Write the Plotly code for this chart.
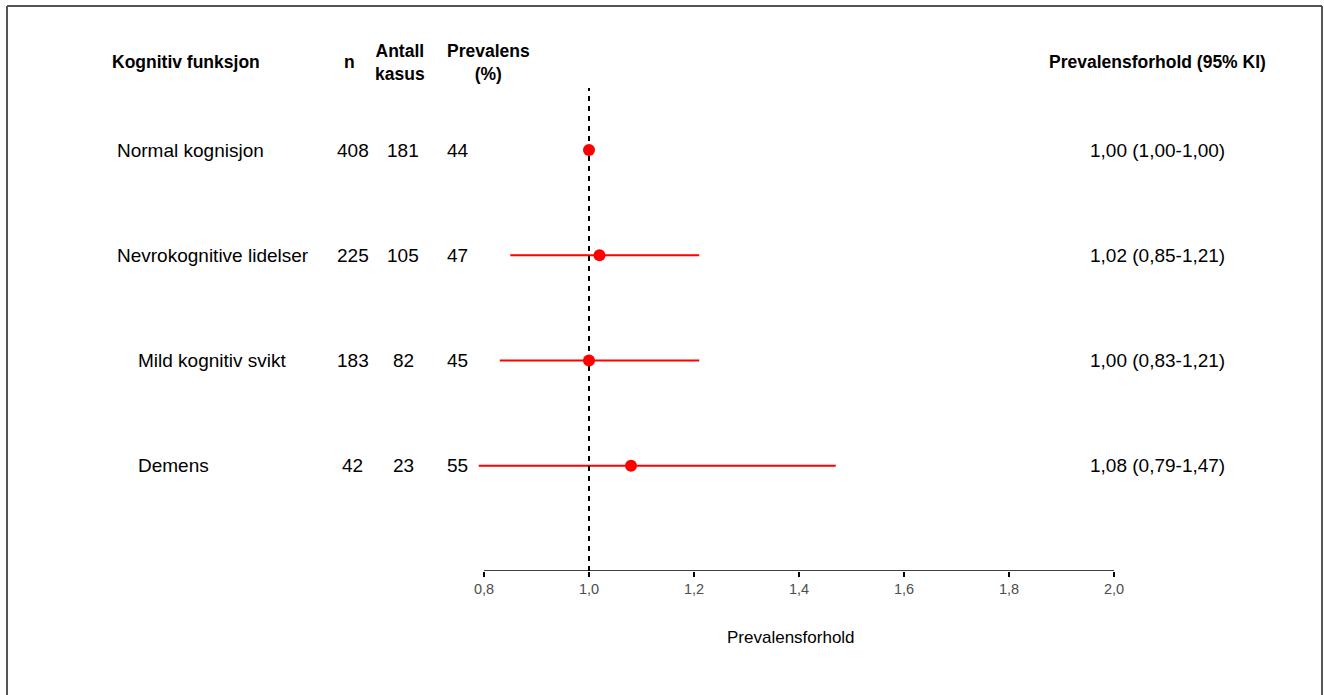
import plotly.graph_objects as go

# ---- data ----
labels = ["Normal kognisjon", "Nevrokognitive lidelser", "Mild kognitiv svikt", "Demens"]
n_vals = [408, 225, 183, 42]
cases = [181, 105, 82, 23]
prevalence = [44, 47, 45, 55]
pr = [1.00, 1.02, 1.00, 1.08]
ci_lo = [1.00, 0.85, 0.83, 0.79]
ci_hi = [1.00, 1.21, 1.21, 1.47]
indent = [False, False, True, True]
tick_vals = [0.8, 1.0, 1.2, 1.4, 1.6, 1.8, 2.0]
tick_text = ["0,8", "1,0", "1,2", "1,4", "1,6", "1,8", "2,0"]

W, H = 1324, 695
ypos = [4, 3, 2, 1]

def fmt(v):
    return f"{v:.2f}".replace(".", ",")

def px(x):
    return x / W

def py(y):
    return 1 - y / H

FONT = "Liberation Sans, Arial, sans-serif"

fig = go.Figure()

# CI lines
for y, lo, hi in zip(ypos, ci_lo, ci_hi):
    fig.add_trace(go.Scatter(x=[lo, hi], y=[y, y], mode="lines",
                             line=dict(color="#ff0000", width=2),
                             showlegend=False, hoverinfo="skip"))

# reference line
fig.add_trace(go.Scatter(x=[1.0, 1.0], y=[0, 4.59], mode="lines",
                         line=dict(color="black", width=2, dash="5px,5px"),
                         showlegend=False, hoverinfo="skip"))

# point estimates
fig.add_trace(go.Scatter(x=pr, y=ypos, mode="markers",
                         marker=dict(color="#ff0000", size=12),
                         showlegend=False))

ann = []
hy = 4.836
hfont = dict(family=FONT, size=17.5, color="black")
rfont = dict(family=FONT, size=19, color="black")

# headers
ann.append(dict(x=px(186), y=hy, text="<b>Kognitiv funksjon</b>", xanchor="center", font=hfont))
ann.append(dict(x=px(349), y=hy, text="<b>n</b>", xanchor="center", font=hfont))
ann.append(dict(x=px(400), y=hy, text="<b>Antall</b><br><b>kasus</b>", xanchor="center", font=hfont))
ann.append(dict(x=px(488), y=hy, text="<b>Prevalens</b><br><b>(%)</b>", xanchor="center", font=hfont))
ann.append(dict(x=px(1157), y=hy, text="<b>Prevalensforhold (95% KI)</b>", xanchor="center", font=hfont))

for i, y in enumerate(ypos):
    ann.append(dict(x=px(136 if indent[i] else 115), y=y, text=labels[i], xanchor="left", font=rfont))
    ann.append(dict(x=px(353), y=y, text=str(n_vals[i]), xanchor="center", font=rfont))
    ann.append(dict(x=px(403), y=y, text=str(cases[i]), xanchor="center", font=rfont))
    ann.append(dict(x=px(445), y=y, text=str(prevalence[i]), xanchor="left", font=rfont))
    ann.append(dict(x=px(1157), y=y,
                    text=f"{fmt(pr[i])} ({fmt(ci_lo[i])}-{fmt(ci_hi[i])})",
                    xanchor="center", font=rfont))

for a in ann:
    a.update(xref="paper", yref="y", yanchor="middle", showarrow=False)

# axis title
ann.append(dict(x=px(791), y=py(637), xref="paper", yref="paper", text="Prevalensforhold",
                xanchor="center", yanchor="middle", showarrow=False,
                font=dict(family=FONT, size=17, color="black")))

shapes = [
    # x axis line
    dict(type="line", xref="x", yref="y", x0=0.8, x1=2.0, y0=0, y1=0,
         line=dict(color="black", width=1.5)),
    # frame
    dict(type="line", xref="paper", yref="paper", x0=px(7), x1=px(7), y0=-0.05, y1=py(6),
         line=dict(color="#555555", width=2)),
    dict(type="line", xref="paper", yref="paper", x0=px(7), x1=px(1322), y0=py(6), y1=py(6),
         line=dict(color="#555555", width=2)),
    dict(type="line", xref="paper", yref="paper", x0=px(1322), x1=px(1322), y0=-0.05, y1=py(6),
         line=dict(color="#555555", width=2)),
]

x0_px = 484 - 0.05 * 525
x1_px = 1114 + 0.05 * 525

fig.update_layout(
    width=W, height=H,
    margin=dict(l=0, r=0, t=0, b=0),
    paper_bgcolor="white", plot_bgcolor="white",
    font=dict(family=FONT),
    annotations=ann,
    shapes=shapes,
    xaxis=dict(range=[0.75, 2.05], domain=[x0_px / W, x1_px / W],
               tickvals=tick_vals, ticktext=tick_text,
               ticks="outside", ticklen=5, tickwidth=1.5, tickcolor="black",
               tickfont=dict(family=FONT, size=14.5, color="#4d4d4d"),
               showline=False, showgrid=False, zeroline=False, fixedrange=True),
    yaxis=dict(range=[0, 571 / 105.25], domain=[(H - 571) / H, 1],
               showticklabels=False, showgrid=False, zeroline=False,
               showline=False, ticks="", fixedrange=True),
)

fig.write_html("out.html", config={"displayModeBar": False},
               post_script="document.body.style.margin='0';document.body.style.overflow='hidden';")
